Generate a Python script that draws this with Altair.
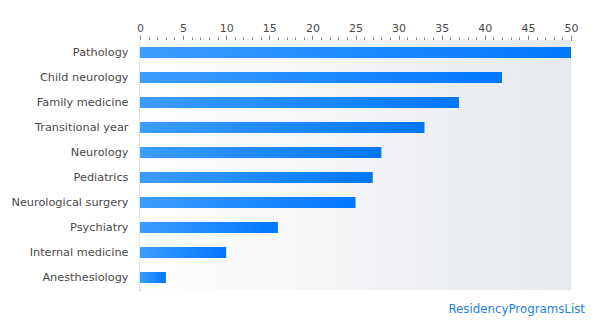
import altair as alt
import pandas as pd

# Residency programs and their counts
programs = [
    "Pathology", "Child neurology", "Family medicine", "Transitional year",
    "Neurology", "Pediatrics", "Neurological surgery", "Psychiatry",
    "Internal medicine", "Anesthesiology",
]
counts = [50, 42, 37, 33, 28, 27, 25, 16, 10, 3]

major_ticks = [0, 5, 10, 15, 20, 25, 30, 35, 40, 45, 50]
minor_ticks = list(range(0, 51))

df = pd.DataFrame({"program": programs, "count": counts})
bg_df = pd.DataFrame({"lo": [0], "hi": [50]})

W, H = 431, 250
FONT = "DejaVu Sans"

x_scale = alt.Scale(domain=[0, 50], nice=False, zero=True)
y_scale = alt.Scale(domain=programs, paddingInner=0.56, paddingOuter=0.28)

background = alt.Chart(bg_df).mark_rect(
    color=alt.Gradient(
        gradient="linear",
        stops=[alt.GradientStop(color="#ffffff", offset=0),
               alt.GradientStop(color="#e6e9ed", offset=1)],
        x1=0, x2=1, y1=0, y2=0,
    )
).encode(
    x=alt.X("lo:Q", scale=x_scale, axis=alt.Axis(
        orient="top", values=minor_ticks, labels=False, tickSize=3,
        domain=False, grid=False, title=None, tickColor="#888888",
    )),
    x2="hi:Q",
    y=alt.value(0),
    y2=alt.value(H),
)

bars = alt.Chart(df).mark_bar(
    color=alt.Gradient(
        gradient="linear",
        stops=[alt.GradientStop(color="#3d9dff", offset=0),
               alt.GradientStop(color="#0077ff", offset=1)],
        x1=0, x2=1, y1=0, y2=0,
    )
).encode(
    x=alt.X("count:Q", scale=x_scale, axis=alt.Axis(
        orient="top", values=major_ticks, tickSize=5, title=None,
        grid=False, domainColor="#888888", tickColor="#888888",
        labelColor="#4a4a4a", labelFont=FONT, labelFontSize=11,
        labelPadding=2, labelFlush=False,
    )),
    y=alt.Y("program:N", scale=y_scale, sort=programs, axis=alt.Axis(
        title=None, ticks=False, domainColor="#888888", domainWidth=1.5,
        labelColor="#4a4a4a", labelFont=FONT, labelFontSize=11.3,
        labelPadding=12,
    )),
)

credit = alt.Chart(bg_df).mark_text(
    text="ResidencyProgramsList", align="right", baseline="middle",
    font=FONT, fontSize=11.8, color="#1f80e8",
).encode(x=alt.value(W + 14), y=alt.value(H + 19))

chart = alt.layer(background, bars, credit).resolve_axis(x="independent").properties(
    width=W, height=H,
    autosize=alt.AutoSizeParams(type="none"),
    padding={"left": 140, "top": 40, "right": 29, "bottom": 30},
).configure_view(stroke=None)

chart.save("out.html", embed_options={"renderer": "svg", "actions": False})
